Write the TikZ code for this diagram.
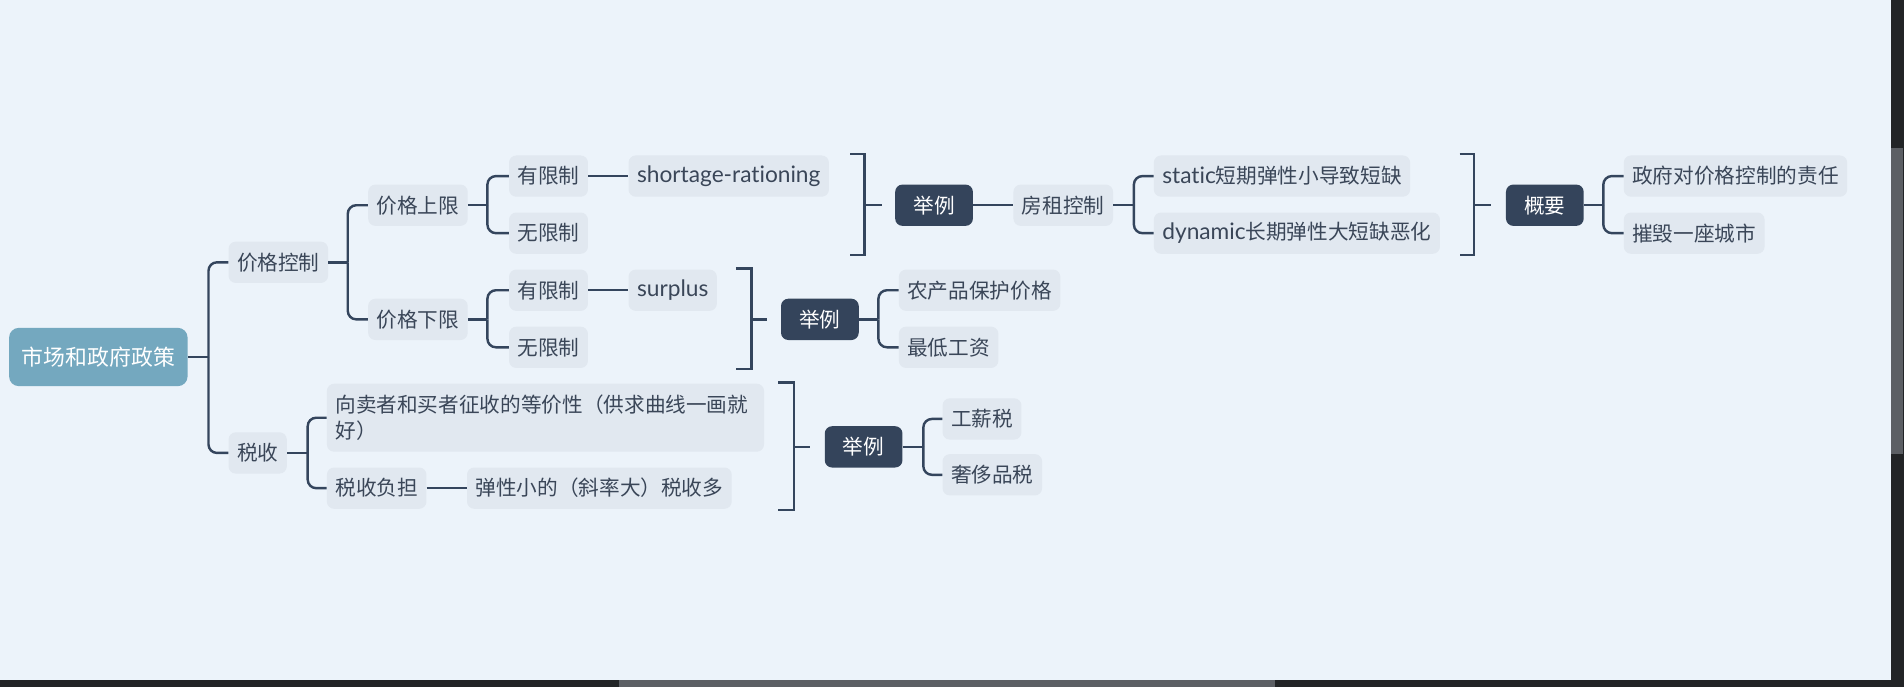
\documentclass[tikz,border=0pt]{standalone}
\usepackage{fontspec}
\setmainfont{Noto Sans CJK SC}
\newfontfamily\lat[Scale=1.1,Ligatures=NoCommon]{Lato}
\usepackage{xcolor}
\usetikzlibrary{positioning}

\definecolor{bgc}{HTML}{ECF3FA}
\definecolor{leafc}{HTML}{E1E8F0}
\definecolor{textc}{HTML}{3A4658}
\definecolor{darkc}{HTML}{34445B}
\definecolor{rootc}{HTML}{74A8BF}
\definecolor{linec}{HTML}{34455D}
\definecolor{trackc}{HTML}{222426}
\definecolor{thumbc}{HTML}{5C5F64}

\begin{document}
\begin{tikzpicture}[
  x=1pt, y=-1pt,
  leaf/.style={fill=leafc, text=textc, rounded corners=6pt, anchor=west,
    minimum height=34pt, inner xsep=7pt, inner ysep=0pt,
    font=\fontsize{17}{22}\selectfont},
  tag/.style={leaf, fill=darkc, text=white, inner xsep=15pt},
  rootbox/.style={fill=rootc, text=white, rounded corners=8pt,
    minimum width=147pt, minimum height=48pt,
    font=\fontsize{18}{22}\selectfont},
  link/.style={draw=linec, line width=2pt},
  elbow/.style={link, rounded corners=7pt}
]
  % background and scroll bars
  \fill[bgc] (0,0) rectangle (1568,566);
  \useasboundingbox (0,0) rectangle (1568,566);
  \fill[trackc] (0,560) rectangle (1568,566);
  \fill[thumbc] (510,560) rectangle (1050,566);
  \fill[trackc] (1557,0) rectangle (1568,560);
  \fill[thumbc] (1557,122) rectangle (1567,374);

  % nodes
  \node[rootbox] (mkt) at (81,294) {市场和政府政策};
  \node[leaf] (pc) at (188,216) {价格控制};
  \node[leaf] (tax) at (188,373) {税收};
  \node[leaf] (ceil) at (303,169) {价格上限};
  \node[leaf] (floor) at (303,263) {价格下限};
  \node[leaf] (clim) at (419,145) {有限制};
  \node[leaf] (cfree) at (419,192) {无限制};
  \node[leaf, right=33pt of clim] (short) {\lat shortage-rationing};
  \node[leaf] (flim) at (419,239) {有限制};
  \node[leaf] (ffree) at (419,286) {无限制};
  \node[leaf, right=33pt of flim] (surp) {\lat surplus};
  \node[tag] (ex1) at (737,169) {举例};
  \node[leaf, right=33pt of ex1] (rent) {房租控制};
  \node[leaf] (stat) at (950,145) {{\lat static}短期弹性小导致短缺};
  \node[leaf] (dyn) at (950,192) {{\lat dynamic}长期弹性大短缺恶化};
  \node[tag] (sum) at (1240,169) {概要};
  \node[leaf] (gov) at (1337,145) {政府对价格控制的责任};
  \node[leaf] (city) at (1337,192) {摧毁一座城市};
  \node[tag] (ex2) at (643,263) {举例};
  \node[leaf] (agri) at (740,239) {农产品保护价格};
  \node[leaf] (wage) at (740,286) {最低工资};
  \node[leaf, text width=346pt, align=left, minimum height=56pt] (equiv)
    at (269,344) {向卖者和买者征收的等价性（供求曲线一画就\\好）};
  \node[leaf] (burden) at (269,402) {税收负担};
  \node[leaf, right=33pt of burden] (elas) {弹性小的（斜率大）税收多};
  \node[tag] (ex3) at (679,368) {举例};
  \node[leaf] (wtax) at (776,345) {工薪税};
  \node[leaf] (ltax) at (776,391) {奢侈品税};

  % tree links
  \draw[link] (mkt.east) -- ++(17,0) coordinate (j0);
  \draw[elbow] (j0) |- (pc.west);
  \draw[elbow] (j0) |- (tax.west);
  \draw[link] (pc.east) -- ++(16,0) coordinate (j1);
  \draw[elbow] (j1) |- (ceil.west);
  \draw[elbow] (j1) |- (floor.west);
  \draw[link] (ceil.east) -- ++(16,0) coordinate (j2);
  \draw[elbow] (j2) |- (clim.west);
  \draw[elbow] (j2) |- (cfree.west);
  \draw[link] (floor.east) -- ++(16,0) coordinate (j3);
  \draw[elbow] (j3) |- (flim.west);
  \draw[elbow] (j3) |- (ffree.west);
  \draw[link] (clim) -- (short);
  \draw[link] (flim) -- (surp);
  \draw[link] (ex1) -- (rent);
  \draw[link] (rent.east) -- ++(17,0) coordinate (j4);
  \draw[elbow] (j4) |- (stat.west);
  \draw[elbow] (j4) |- (dyn.west);
  \draw[link] (sum.east) -- ++(16,0) coordinate (j5);
  \draw[elbow] (j5) |- (gov.west);
  \draw[elbow] (j5) |- (city.west);
  \draw[link] (ex2.east) -- ++(16,0) coordinate (j6);
  \draw[elbow] (j6) |- (agri.west);
  \draw[elbow] (j6) |- (wage.west);
  \draw[link] (tax.east) -- ++(17,0) coordinate (j7);
  \draw[elbow] (j7) |- (equiv.west);
  \draw[elbow] (j7) |- (burden.west);
  \draw[link] (burden) -- (elas);
  \draw[link] (ex3.east) -- ++(17,0) coordinate (j8);
  \draw[elbow] (j8) |- (wtax.west);
  \draw[elbow] (j8) |- (ltax.west);

  % summary brackets
  \draw[link] (700,127) -- (712,127) -- (712,210) -- (700,210);
  \draw[link] (712,169) -- (726,169);
  \draw[link] (1202,127) -- (1214,127) -- (1214,210) -- (1202,210);
  \draw[link] (1214,169) -- (1228,169);
  \draw[link] (606,221) -- (619,221) -- (619,304) -- (606,304);
  \draw[link] (619,263) -- (632,263);
  \draw[link] (641,315) -- (654,315) -- (654,420) -- (641,420);
  \draw[link] (654,368) -- (667,368);
\end{tikzpicture}
\end{document}
